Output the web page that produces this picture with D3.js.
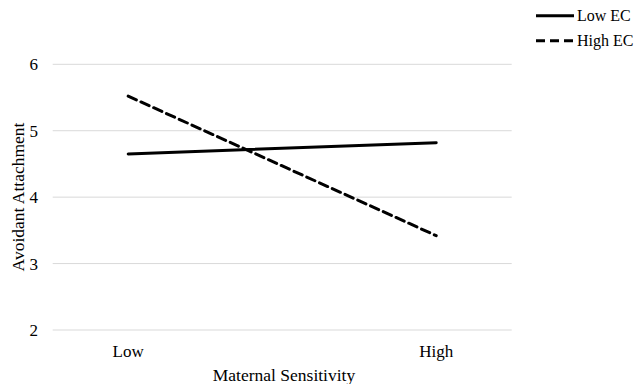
<!DOCTYPE html>
<html>
<head>
<meta charset="utf-8">
<script src="https://cdn.jsdelivr.net/npm/d3@7"></script>
<style>
  html, body { margin: 0; padding: 0; background: #fff; }
  svg text { font-family: "Liberation Serif", "Times New Roman", serif; fill: #000; }
</style>
</head>
<body>
<svg id="chart" width="634" height="384"></svg>
<script>
// interaction plot: avoidant attachment by maternal sensitivity, split by EC
const categories = ["Low", "High"];
const yTicks = [2, 3, 4, 5, 6];
const seriesNames = ["Low EC", "High EC"];
const lowEC = [4.65, 4.82];
const highEC = [5.52, 3.42];

const series = [
  {name: seriesNames[0], values: lowEC, dash: null},
  {name: seriesNames[1], values: highEC, dash: "9,5"},
];

const svg = d3.select("#chart");
const plot = {left: 52.7, right: 511.7, top: 64.3, bottom: 330};

const x = d3.scalePoint(categories, [plot.left, plot.right]).padding(0.245);
const y = d3.scaleLinear([2, 6], [plot.bottom, plot.top]);

// gridlines
svg.append("g").selectAll("line").data(yTicks).join("line")
  .attr("x1", plot.left).attr("x2", plot.right)
  .attr("y1", d => y(d)).attr("y2", d => y(d))
  .attr("stroke", "#d9d9d9").attr("stroke-width", 1);

// y tick labels
svg.append("g").selectAll("text").data(yTicks).join("text")
  .attr("x", 38).attr("y", d => y(d)).attr("dy", "0.35em")
  .attr("text-anchor", "end").attr("font-size", 17).text(d => d);

// x tick labels
svg.append("g").selectAll("text").data(categories).join("text")
  .attr("x", d => x(d)).attr("y", 357)
  .attr("text-anchor", "middle").attr("font-size", 17).text(d => d);

// axis titles
svg.append("text").attr("x", 284).attr("y", 381)
  .attr("text-anchor", "middle").attr("font-size", 17.5).text("Maternal Sensitivity");
svg.append("text").attr("transform", "translate(24,197) rotate(-90)")
  .attr("text-anchor", "middle").attr("font-size", 17.5).text("Avoidant Attachment");

// lines
const line = d3.line().x((d, i) => x(categories[i])).y(d => y(d));
svg.append("g").selectAll("path").data(series).join("path")
  .attr("d", s => line(s.values)).attr("fill", "none")
  .attr("stroke", "#000").attr("stroke-width", 3)
  .attr("stroke-linecap", "round")
  .attr("stroke-dasharray", s => s.dash);

// legend
const leg = svg.append("g").selectAll("g").data(series).join("g")
  .attr("transform", (s, i) => `translate(536,${15.7 + i * 25})`);
leg.append("line").attr("x1", 0).attr("x2", 38)
  .attr("stroke", "#000").attr("stroke-width", 3)
  .attr("stroke-dasharray", s => s.dash);
leg.append("text").attr("x", 41).attr("y", 0).attr("dy", "0.32em")
  .attr("font-size", 16).text(s => s.name);
</script>
</body>
</html>
